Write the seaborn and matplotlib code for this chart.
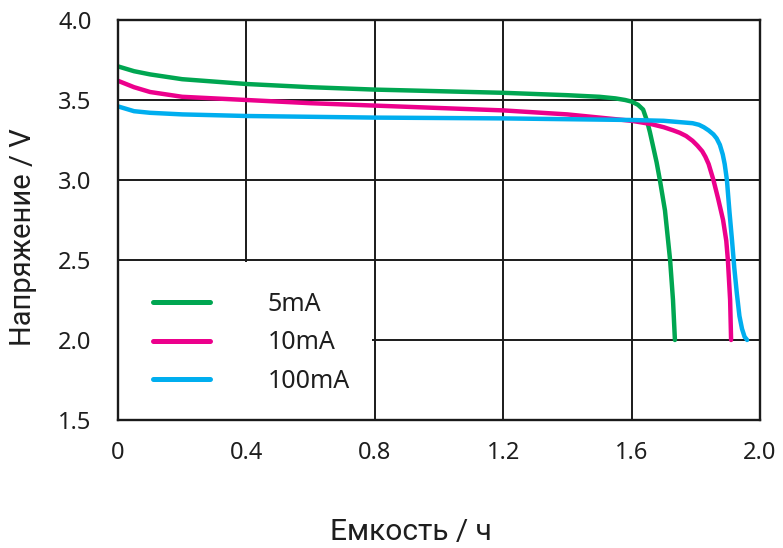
import numpy as np
import pandas as pd
import seaborn as sns
from matplotlib import pyplot as plt
from matplotlib.patches import Rectangle

# discharge curves
green_x = [0.00, 0.05, 0.10, 0.20, 0.40, 0.60, 0.80, 1.00, 1.20, 1.40, 1.50, 1.55, 1.58, 1.60,
           1.62, 1.636, 1.648, 1.657, 1.667, 1.678, 1.689, 1.704, 1.72, 1.729, 1.735]
green_y = [3.71, 3.68, 3.66, 3.63, 3.60, 3.58, 3.565, 3.555, 3.545, 3.53, 3.52, 3.51, 3.50, 3.49,
           3.47, 3.44, 3.37, 3.30, 3.21, 3.11, 2.99, 2.81, 2.50, 2.25, 2.00]

pink_x = [0.00, 0.05, 0.10, 0.20, 0.40, 0.60, 0.80, 1.00, 1.20, 1.40, 1.60, 1.66, 1.70, 1.73,
          1.75, 1.77, 1.79, 1.805, 1.82, 1.83, 1.84, 1.855, 1.87, 1.885, 1.895, 1.90, 1.907, 1.91]
pink_y = [3.62, 3.58, 3.55, 3.52, 3.50, 3.48, 3.465, 3.45, 3.435, 3.41, 3.37, 3.35, 3.33, 3.31,
          3.295, 3.275, 3.245, 3.215, 3.18, 3.145, 3.10, 3.00, 2.88, 2.75, 2.62, 2.50, 2.25, 2.00]

blue_x = [0.00, 0.05, 0.10, 0.20, 0.40, 0.80, 1.20, 1.60, 1.70, 1.76, 1.79, 1.81, 1.825,
          1.84, 1.855, 1.865, 1.875, 1.884, 1.89, 1.897, 1.905, 1.913, 1.92, 1.928, 1.936,
          1.944, 1.952, 1.96]
blue_y = [3.46, 3.43, 3.42, 3.41, 3.40, 3.39, 3.385, 3.375, 3.37, 3.36, 3.355, 3.345, 3.33,
          3.31, 3.285, 3.26, 3.22, 3.16, 3.10, 3.00, 2.80, 2.62, 2.45, 2.29, 2.15,
          2.07, 2.02, 2.00]

series_names = ["5mA", "10mA", "100mA"]
series_colors = ["#00a651", "#ec008c", "#00aeef"]

x_ticks = [0, 0.4, 0.8, 1.2, 1.6, 2.0]
x_ticklabels = ["0", "0.4", "0.8", "1.2", "1.6", "2.0"]
y_ticks = [1.5, 2.0, 2.5, 3.0, 3.5, 4.0]

frames = []
for name, xs, ys in zip(series_names, [green_x, pink_x, blue_x], [green_y, pink_y, blue_y]):
    frames.append(pd.DataFrame({"cap": xs, "volt": ys, "current": name}))
df = pd.concat(frames, ignore_index=True)

sns.set_style("white")
plt.rcParams["font.family"] = ["Noto Sans", "DejaVu Sans"]

fig = plt.figure(figsize=(7.83, 5.48), dpi=100)
ax = fig.add_axes([0.1507, 0.2336, 0.8199, 0.7299])

sns.lineplot(data=df, x="cap", y="volt", hue="current", hue_order=series_names,
             palette=series_colors, estimator=None, sort=False, linewidth=3.2,
             legend=False, ax=ax, zorder=3)

ax.set_xlim(0, 2.0)
ax.set_ylim(1.5, 4.0)
ax.set_xticks(x_ticks)
ax.set_xticklabels(x_ticklabels)
ax.set_yticks(y_ticks)
ax.set_yticklabels([f"{v:.1f}" for v in y_ticks])
ax.grid(True, color="#1a1a1a", linewidth=1.4)
ax.tick_params(axis="both", labelsize=17, colors="#1e1e1e", length=0)
ax.tick_params(axis="y", pad=19)
ax.tick_params(axis="x", pad=15)
for sp in ax.spines.values():
    sp.set_color("#1a1a1a")
    sp.set_linewidth(1.7)
    sp.set_zorder(4)

# white box behind the legend, hides the grid there
ax.add_patch(Rectangle((0, 1.5), 0.79, 0.985, facecolor="white", edgecolor="none", zorder=2))

handles = [plt.Line2D([], [], color=c, linewidth=3.6) for c in series_colors]
leg = ax.legend(handles, series_names, loc="center", bbox_to_anchor=(0.208, 0.1925),
                frameon=False, fontsize=18, handlelength=2.3, handletextpad=2.3,
                labelspacing=0.55)
for t in leg.get_texts():
    t.set_color("#1e1e1e")

ax.set_xlabel("Емкость / ч", family=["Roboto", "DejaVu Sans"],
              fontsize=21.5, color="#1e1e1e")
ax.set_ylabel("Напряжение / V", family=["Roboto", "DejaVu Sans"],
              fontsize=21, color="#1e1e1e")
ax.xaxis.set_label_coords(0.456, -0.245)
ax.yaxis.set_label_coords(-0.126, 0.4575)

fig.savefig("out.png", dpi=100)
